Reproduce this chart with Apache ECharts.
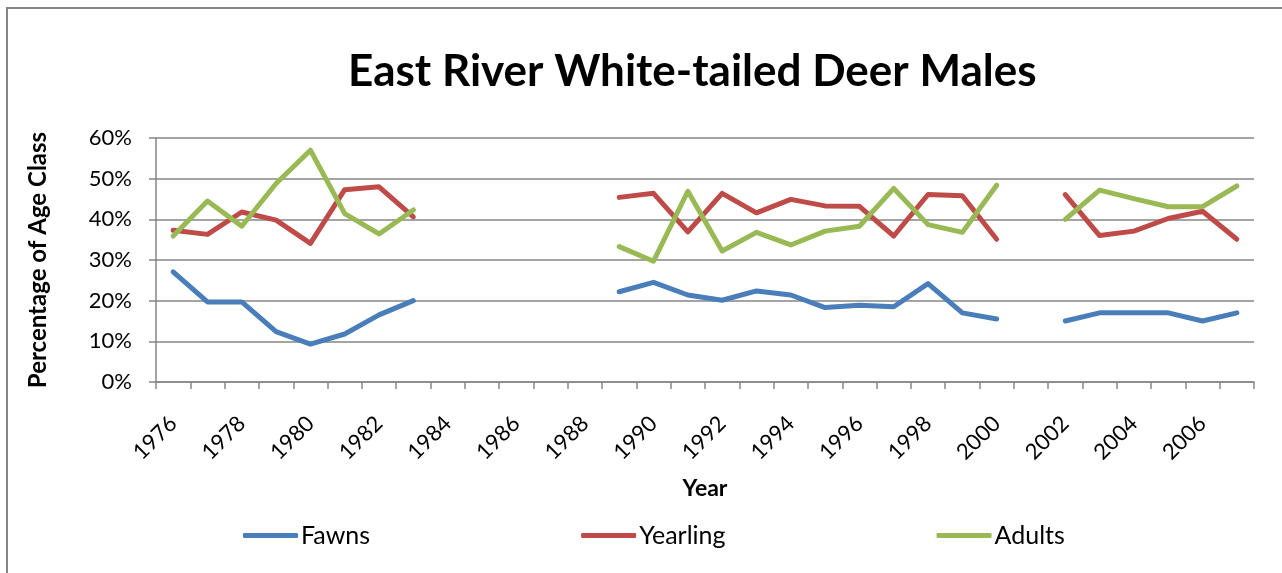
<!DOCTYPE html>
<html>
<head>
<meta charset="utf-8">
<script src="https://cdn.jsdelivr.net/npm/echarts@6/dist/echarts.min.js"></script>
<style>html,body{margin:0;padding:0;background:#fff;}#c{width:1282px;height:573px;}</style>
</head>
<body>
<div id="c"></div>
<script>
var years = [];
for (var y = 1976; y <= 2007; y++) years.push(String(y));
var fawns = [27.1,19.7,19.7,12.4,9.3,11.8,16.5,20.0, null,null,null,null,null,
  22.2,24.5,21.4,20.1,22.4,21.4,18.3,18.9,18.5,24.2,17.0,15.5, null,
  15.0,17.0,17.0,17.0,15.0,17.0];
var yearling = [37.3,36.3,41.8,39.8,34.1,47.3,48.0,40.6, null,null,null,null,null,
  45.4,46.4,36.9,46.4,41.6,44.9,43.3,43.2,35.9,46.1,45.8,35.1, null,
  46.1,36.0,37.1,40.2,42.0,35.1];
var adults = [35.9,44.5,38.3,48.8,57.0,41.4,36.4,42.3, null,null,null,null,null,
  33.3,29.7,46.9,32.2,36.8,33.7,37.1,38.3,47.6,38.7,36.8,48.4, null,
  40.0,47.2,45.1,43.1,43.1,48.2];
var seriesNames = ['Fawns','Yearling','Adults'];
var colors = ['#4A7EBB','#BE4B48','#98B954'];

var chart = echarts.init(document.getElementById('c'));
var font = 'Lato, "Open Sans", sans-serif';
function mk(name, data, color) {
  return {name: name, type: 'line', data: data, symbol: 'none', connectNulls: false,
    lineStyle: {color: color, width: 5, cap: 'round', join: 'round'}, itemStyle: {color: color}};
}
chart.setOption({
  animation: false,
  backgroundColor: '#fff',
  graphic: [{type: 'rect', shape: {x: 7, y: 8, width: 1300, height: 600},
    style: {fill: 'none', stroke: '#868686', lineWidth: 2}}],
  title: {text: 'East River White-tailed Deer Males', left: 343, top: 45,
    textStyle: {fontFamily: font, fontWeight: 'bold', fontSize: 44, color: '#000'}},
  legend: {left: 238, top: 518, itemGap: 211, itemWidth: 55, itemHeight: 5, icon: 'roundRect',
    textStyle: {fontFamily: font, fontSize: 25, color: '#000', padding: [0,0,0,-2]},
    data: seriesNames},
  grid: {left: 156, right: 28, top: 138, bottom: 191, containLabel: false},
  xAxis: {type: 'category', data: years, boundaryGap: true,
    name: 'Year', nameLocation: 'middle', nameGap: 95,
    nameTextStyle: {fontFamily: font, fontWeight: 'bold', fontSize: 23, color: '#000'},
    axisLine: {lineStyle: {color: '#868686', width: 1.5}},
    axisTick: {show: true, length: 7, interval: 0, lineStyle: {color: '#868686', width: 1.5}},
    axisLabel: {interval: 1, rotate: 45, fontFamily: font, fontSize: 22, color: '#000', margin: 38}},
  yAxis: {type: 'value', min: 0, max: 60, interval: 10,
    name: 'Percentage of Age Class', nameLocation: 'middle', nameGap: 106,
    nameTextStyle: {fontFamily: font, fontWeight: 'bold', fontSize: 24, color: '#000'},
    axisLine: {show: true, lineStyle: {color: '#868686', width: 1.5}},
    axisTick: {show: true, length: 7, lineStyle: {color: '#868686', width: 1.5}},
    axisLabel: {formatter: '{value}%', fontFamily: font, fontSize: 22, color: '#000', margin: 24},
    splitLine: {lineStyle: {color: '#868686', width: 1.5}}},
  series: [mk(seriesNames[0], fawns, colors[0]), mk(seriesNames[1], yearling, colors[1]), mk(seriesNames[2], adults, colors[2])]
});
</script>
</body>
</html>
